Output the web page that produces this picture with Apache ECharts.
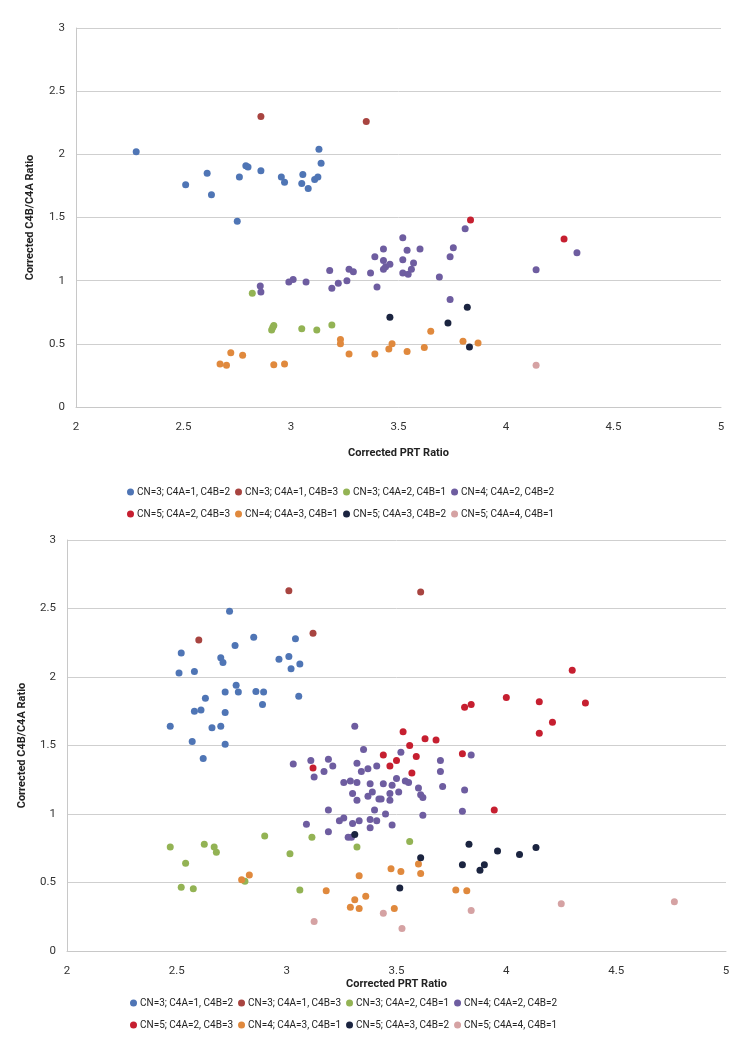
<!DOCTYPE html>
<html>
<head>
<meta charset="utf-8">
<script src="https://cdn.jsdelivr.net/npm/echarts@6/dist/echarts.min.js"></script>
<style>
  html, body { margin: 0; padding: 0; background: #fff; }
  #chart { width: 756px; height: 1048px; }
</style>
</head>
<body>
<div id="chart"></div>
<script>
// series names, shared by both panels
const seriesNames = [
  'CN=3; C4A=1, C4B=2', 'CN=3; C4A=1, C4B=3', 'CN=3; C4A=2, C4B=1', 'CN=4; C4A=2, C4B=2',
  'CN=5; C4A=2, C4B=3', 'CN=4; C4A=3, C4B=1', 'CN=5; C4A=3, C4B=2', 'CN=5; C4A=4, C4B=1'
];
const seriesColors = ['#4F75B5', '#A84440', '#93B354', '#6E5DA0', '#C61F30', '#E0893D', '#1B2440', '#D5A2A3'];

const xTicks = [2, 2.5, 3, 3.5, 4, 4.5, 5];
const yTicks = [0, 0.5, 1, 1.5, 2, 2.5, 3];

// ---- top panel [PRT ratio, C4B/C4A ratio] ----
const topCn3a1b2 = [
  [2.28, 2.02], [2.51, 1.76], [2.61, 1.85], [2.63, 1.68], [2.75, 1.47], [2.76, 1.82],
  [2.79, 1.91], [2.80, 1.90], [2.86, 1.87], [2.955, 1.82], [2.97, 1.78], [3.055, 1.84],
  [3.05, 1.77], [3.08, 1.73], [3.11, 1.80], [3.125, 1.82], [3.13, 2.04], [3.14, 1.93]
];
const topCn3a1b3 = [[2.86, 2.30], [3.35, 2.26]];
const topCn3a2b1 = [
  [2.82, 0.90], [2.91, 0.61], [2.92, 0.645], [2.915, 0.63], [3.05, 0.62], [3.12, 0.61], [3.19, 0.65]
];
const topCn4a2b2 = [
  [2.857, 0.957], [2.86, 0.91], [2.99, 0.99], [3.01, 1.01], [3.07, 0.99], [3.18, 1.08],
  [3.19, 0.94], [3.22, 0.98], [3.26, 1.00], [3.27, 1.09], [3.29, 1.07], [3.37, 1.06],
  [3.40, 0.95], [3.39, 1.19], [3.43, 1.25], [3.43, 1.16], [3.44, 1.11], [3.43, 1.09],
  [3.46, 1.13], [3.52, 1.165], [3.52, 1.06], [3.545, 1.05], [3.52, 1.34], [3.54, 1.24],
  [3.56, 1.09], [3.57, 1.14], [3.60, 1.25], [3.69, 1.03], [3.74, 1.19], [3.755, 1.26],
  [3.74, 0.85], [3.81, 1.41], [4.14, 1.086], [4.33, 1.22]
];
const topCn5a2b3 = [[3.835, 1.48], [4.27, 1.33]];
const topCn4a3b1 = [
  [2.67, 0.34], [2.70, 0.33], [2.72, 0.43], [2.775, 0.41], [2.92, 0.335], [2.97, 0.34],
  [3.23, 0.535], [3.23, 0.50], [3.27, 0.42], [3.39, 0.42], [3.455, 0.46], [3.47, 0.50],
  [3.54, 0.44], [3.62, 0.47], [3.65, 0.60], [3.80, 0.52], [3.87, 0.506]
];
const topCn5a3b2 = [[3.46, 0.71], [3.73, 0.665], [3.82, 0.79], [3.83, 0.475]];
const topCn5a4b1 = [[4.14, 0.33]];

// ---- bottom panel ----
const botCn3a1b2 = [
  [2.47, 1.64], [2.52, 2.175], [2.51, 2.03], [2.58, 2.04], [2.63, 1.845], [2.58, 1.75],
  [2.61, 1.76], [2.57, 1.53], [2.62, 1.405], [2.66, 1.63], [2.70, 1.64], [2.72, 1.51],
  [2.72, 1.74], [2.72, 1.89], [2.70, 2.14], [2.71, 2.105], [2.74, 2.48], [2.765, 2.23],
  [2.77, 1.94], [2.78, 1.89], [2.85, 2.29], [2.86, 1.895], [2.895, 1.89], [2.89, 1.80],
  [2.965, 2.13], [3.01, 2.15], [3.02, 2.06], [3.04, 2.28], [3.06, 2.095], [3.055, 1.86]
];
const botCn3a1b3 = [[2.60, 2.27], [3.01, 2.63], [3.12, 2.32], [3.61, 2.62]];
const botCn3a2b1 = [
  [2.47, 0.76], [2.54, 0.64], [2.52, 0.465], [2.575, 0.455], [2.625, 0.78], [2.67, 0.76],
  [2.68, 0.72], [2.81, 0.51], [2.90, 0.84], [3.015, 0.71], [3.06, 0.445], [3.115, 0.83],
  [3.32, 0.76], [3.56, 0.80]
];
const botCn4a2b2 = [
  [3.31, 1.64], [3.35, 1.47], [3.03, 1.365], [3.11, 1.39], [3.19, 1.40], [3.21, 1.35],
  [3.32, 1.37], [3.37, 1.33], [3.41, 1.35], [3.52, 1.45], [3.84, 1.43], [3.70, 1.39],
  [3.125, 1.27], [3.17, 1.31], [3.26, 1.23], [3.29, 1.24], [3.32, 1.23], [3.38, 1.22],
  [3.34, 1.31], [3.30, 1.15], [3.32, 1.10], [3.37, 1.13], [3.39, 1.16], [3.42, 1.11],
  [3.40, 1.03], [3.19, 1.03], [3.24, 0.95], [3.26, 0.97], [3.30, 0.93], [3.33, 0.95],
  [3.38, 0.96], [3.41, 0.95], [3.38, 0.90], [3.09, 0.925], [3.19, 0.87], [3.28, 0.83],
  [3.295, 0.83], [3.70, 1.31], [3.71, 1.20], [3.81, 1.175], [3.80, 1.02], [3.44, 1.22],
  [3.48, 1.21], [3.50, 1.26], [3.54, 1.24], [3.555, 1.23], [3.60, 1.19], [3.61, 1.14],
  [3.62, 1.12], [3.47, 1.15], [3.51, 1.16], [3.43, 1.11], [3.47, 1.10], [3.45, 1.00],
  [3.62, 0.99], [3.48, 0.92]
];
const botCn5a2b3 = [
  [4.30, 2.05], [4.00, 1.85], [3.81, 1.78], [3.84, 1.80], [4.15, 1.82], [4.36, 1.81],
  [4.21, 1.67], [4.15, 1.59], [3.53, 1.60], [3.56, 1.50], [3.63, 1.55], [3.68, 1.54],
  [3.59, 1.42], [3.80, 1.44], [3.44, 1.43], [3.50, 1.39], [3.47, 1.35], [3.12, 1.335],
  [3.57, 1.30], [3.945, 1.03]
];
const botCn4a3b1 = [
  [2.795, 0.52], [2.83, 0.555], [3.18, 0.44], [3.33, 0.55], [3.29, 0.32], [3.31, 0.375],
  [3.33, 0.31], [3.36, 0.40], [3.475, 0.60], [3.52, 0.58], [3.60, 0.635], [3.61, 0.565],
  [3.77, 0.445], [3.82, 0.44], [3.49, 0.31]
];
const botCn5a3b2 = [
  [3.31, 0.85], [3.83, 0.78], [3.96, 0.73], [4.06, 0.705], [4.135, 0.755], [3.61, 0.68],
  [3.80, 0.63], [3.90, 0.63], [3.88, 0.59], [3.515, 0.46]
];
const botCn5a4b1 = [[3.125, 0.215], [3.44, 0.275], [3.525, 0.165], [3.84, 0.295], [4.25, 0.345], [4.765, 0.36]];

const topData = [topCn3a1b2, topCn3a1b3, topCn3a2b1, topCn4a2b2, topCn5a2b3, topCn4a3b1, topCn5a3b2, topCn5a4b1];
const botData = [botCn3a1b2, botCn3a1b3, botCn3a2b1, botCn4a2b2, botCn5a2b3, botCn4a3b1, botCn5a3b2, botCn5a4b1];

const font = 'Roboto, "Liberation Sans", sans-serif';
const chart = echarts.init(document.getElementById('chart'), null, { renderer: 'canvas' });

function xAxisFor(gridIndex, gap) {
  return {
    type: 'value', gridIndex: gridIndex,
    min: xTicks[0], max: xTicks[xTicks.length - 1], interval: 0.5,
    name: 'Corrected PRT Ratio', nameLocation: 'middle', nameGap: gap,
    nameTextStyle: { fontFamily: font, fontSize: 11, fontWeight: 'bold', color: '#222' },
    axisLine: { show: true, lineStyle: { color: '#c8c8c8', width: 1 } },
    axisTick: { show: false },
    splitLine: { show: false },
    axisLabel: { fontFamily: font, fontSize: 11.5, color: '#333', margin: 14 }
  };
}
function yAxisFor(gridIndex, gap) {
  return {
    type: 'value', gridIndex: gridIndex,
    min: yTicks[0], max: yTicks[yTicks.length - 1], interval: 0.5,
    name: 'Corrected C4B/C4A Ratio', nameLocation: 'middle', nameGap: gap, nameRotate: 90,
    nameTextStyle: { fontFamily: font, fontSize: 11, fontWeight: 'bold', color: '#222' },
    axisLine: { show: true, lineStyle: { color: '#c8c8c8', width: 1 } },
    axisTick: { show: false },
    splitLine: { show: true, lineStyle: { color: '#cfcfcf', width: 1 } },
    axisLabel: { fontFamily: font, fontSize: 11.5, color: '#333', margin: 11 }
  };
}
function legendRow(names, left, top) {
  return {
    data: names, top: top, left: left,
    icon: 'circle', itemWidth: 7, itemHeight: 7, itemGap: 5,
    textStyle: { fontFamily: font, fontSize: 10, color: '#222', padding: [0, 0, 0, -2] }
  };
}

const series = [];
[topData, botData].forEach(function (set, gi) {
  set.forEach(function (pts, i) {
    series.push({
      name: seriesNames[i], type: 'scatter',
      xAxisIndex: gi, yAxisIndex: gi,
      symbolSize: 7, data: pts,
      itemStyle: { color: seriesColors[i], opacity: 1 }
    });
  });
});

chart.setOption({
  animation: false,
  color: seriesColors,
  grid: [
    { left: 76, right: 35, top: 28, height: 379 },
    { left: 67, right: 30, top: 540, height: 411 }
  ],
  xAxis: [xAxisFor(0, 41), xAxisFor(1, 28)],
  yAxis: [yAxisFor(0, 40), yAxisFor(1, 39)],
  legend: [
    legendRow(seriesNames.slice(0, 4), 122, 482),
    legendRow(seriesNames.slice(4), 122, 504),
    legendRow(seriesNames.slice(0, 4), 125, 993),
    legendRow(seriesNames.slice(4), 125, 1015)
  ],
  series: series
});
</script>
</body>
</html>
